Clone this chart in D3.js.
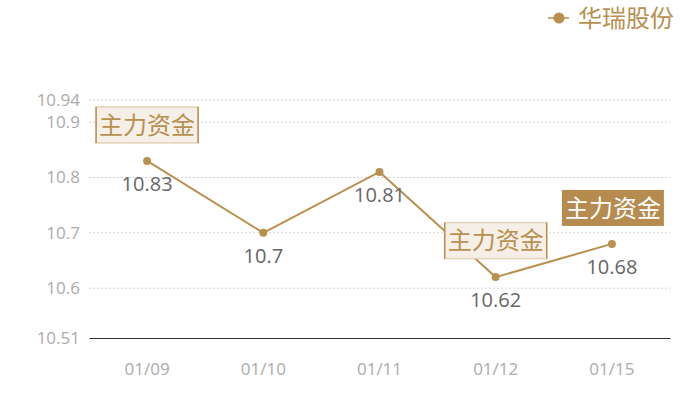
<!DOCTYPE html>
<html>
<head>
<meta charset="utf-8">
<script src="https://cdn.jsdelivr.net/npm/d3@7"></script>
<style>
  body { margin: 0; background: #fff; }
  svg text { font-family: "Noto Sans CJK SC", "Open Sans", sans-serif; }
</style>
</head>
<body>
<div id="chart"></div>
<script>
const dates = ["01/09", "01/10", "01/11", "01/12", "01/15"];
const prices = [10.83, 10.7, 10.81, 10.62, 10.68];
const priceLabels = ["10.83", "10.7", "10.81", "10.62", "10.68"];
const yTicks = [10.51, 10.6, 10.7, 10.8, 10.9, 10.94];
const seriesName = "华瑞股份";
// annotation markers: which date, label, and whether it is the filled style
const markDates = ["01/09", "01/12", "01/15"];
const markLabels = ["主力资金", "主力资金", "主力资金"];
const markFilled = [false, false, true];
const markValues = [10.895, 10.686, 10.745];

const gold = "#b8904f";
const width = 700, height = 400;
const margin = { top: 100, right: 30, bottom: 62, left: 89 };
const w = width - margin.left - margin.right;
const h = height - margin.top - margin.bottom;

const svg = d3.select("#chart")
    .append("svg")
    .attr("width", width)
    .attr("height", height);

const g = svg.append("g")
    .attr("transform", `translate(${margin.left},${margin.top})`);

// Scales
const x = d3.scaleBand().domain(dates).range([0, w]);
const y = d3.scaleLinear().domain([10.51, 10.94]).range([h, 0]);
const cx = d => x(d) + x.bandwidth() / 2;

// Grid lines
g.selectAll(".grid")
    .data(yTicks.slice(1))
    .enter()
    .append("line")
    .attr("x1", 0)
    .attr("x2", w)
    .attr("y1", d => y(d))
    .attr("y2", d => y(d))
    .attr("stroke", "#d4d4d4")
    .attr("stroke-dasharray", "2,2");

// Y axis labels
const yAxis = g.append("g")
    .call(d3.axisLeft(y).tickValues(yTicks).tickSize(0).tickPadding(9).tickFormat(d => String(d)));
yAxis.select(".domain").remove();
yAxis.selectAll("text")
    .attr("fill", "#ababab")
    .style("font-size", "17px")
    .style("font-family", "'Open Sans', sans-serif");

// X axis
const xAxis = g.append("g")
    .attr("transform", `translate(0,${h})`)
    .call(d3.axisBottom(x).tickSize(0).tickPadding(25));
xAxis.select(".domain").attr("stroke", "#333").attr("stroke-width", 1.2);
xAxis.selectAll("text")
    .attr("fill", "#ababab")
    .style("font-size", "17px")
    .style("font-family", "'Open Sans', sans-serif");

// Line
const line = d3.line()
    .x((d, i) => cx(dates[i]))
    .y(d => y(d));

g.append("path")
    .datum(prices)
    .attr("fill", "none")
    .attr("stroke", gold)
    .attr("stroke-width", 2)
    .attr("d", line);

// Dots
g.selectAll(".dot")
    .data(prices)
    .enter()
    .append("circle")
    .attr("cx", (d, i) => cx(dates[i]))
    .attr("cy", d => y(d))
    .attr("r", 4)
    .attr("fill", gold);

// Value labels
g.selectAll(".val")
    .data(prices)
    .enter()
    .append("text")
    .attr("x", (d, i) => cx(dates[i]))
    .attr("y", d => y(d) + 30)
    .attr("text-anchor", "middle")
    .attr("fill", "#666")
    .style("font-size", "20px")
    .style("font-family", "'Open Sans', sans-serif")
    .text((d, i) => priceLabels[i]);

// Annotation boxes
const boxW = 102, boxH = 36;
markDates.forEach((md, i) => {
    const bx = cx(md) - boxW / 2 + (markFilled[i] ? 1 : 0);
    const by = y(markValues[i]) - boxH / 2;
    const ann = g.append("g");
    if (markFilled[i]) {
        ann.append("rect")
            .attr("x", bx).attr("y", by)
            .attr("width", boxW).attr("height", boxH)
            .attr("fill", "#b58b4f");
    } else {
        ann.append("rect")
            .attr("x", bx).attr("y", by)
            .attr("width", boxW).attr("height", boxH)
            .attr("fill", "#f5efe7")
            .attr("stroke", "#e2d2b6")
            .attr("stroke-width", 1.5);
        ann.append("line")
            .attr("x1", bx).attr("x2", bx)
            .attr("y1", by).attr("y2", by + boxH)
            .attr("stroke", gold).attr("stroke-width", 1.5);
        ann.append("line")
            .attr("x1", bx + boxW).attr("x2", bx + boxW)
            .attr("y1", by).attr("y2", by + boxH)
            .attr("stroke", gold).attr("stroke-width", 1.5);
    }
    ann.append("text")
        .attr("x", bx + boxW / 2)
        .attr("y", by + boxH / 2)
        .attr("dy", "0.36em")
        .attr("text-anchor", "middle")
        .attr("fill", markFilled[i] ? "#fff" : gold)
        .style("font-size", "24px")
        .text(markLabels[i]);
});

// Legend
const legend = svg.append("g").attr("transform", "translate(548,18)");
legend.append("line")
    .attr("x1", 0).attr("x2", 21)
    .attr("stroke", gold).attr("stroke-width", 1.5);
legend.append("circle")
    .attr("cx", 11).attr("r", 5.5)
    .attr("fill", gold);
legend.append("text")
    .attr("x", 30)
    .attr("dy", "0.36em")
    .attr("fill", gold)
    .style("font-size", "24px")
    .text(seriesName);
</script>
</body>
</html>
